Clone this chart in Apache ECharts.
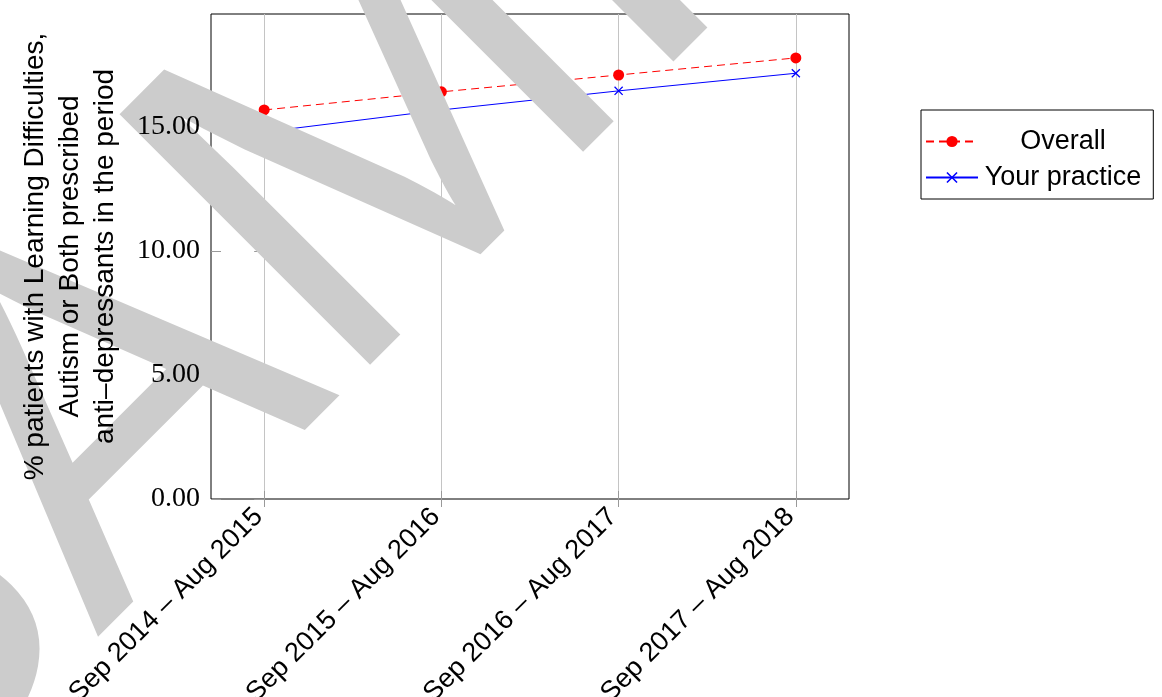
<!DOCTYPE html>
<html><head><meta charset="utf-8">
<script src="https://cdn.jsdelivr.net/npm/echarts@6/dist/echarts.min.js"></script>
<style>html,body{margin:0;padding:0;background:#fff;overflow:hidden}#c{width:1162px;height:697px}</style>
</head><body><div id="c"></div>
<script>
const categories = ['Sep 2014 – Aug 2015', 'Sep 2015 – Aug 2016', 'Sep 2016 – Aug 2017', 'Sep 2017 – Aug 2018'];
const overall = [15.69, 16.42, 17.10, 17.79];
const yourPractice = [14.80, 15.69, 16.46, 17.17];
const yTicks = [0, 5, 10, 15];
const seriesNames = ['Overall', 'Your practice'];
const yTitle = ['% patients with Learning Difficulties,', 'Autism or Both prescribed', 'anti–depressants in the period'];
const watermark = 'SAMPLE';

const chart = echarts.init(document.getElementById('c'), null, {renderer: 'canvas'});
const xIdx = categories.map((_, i) => i);
const SANS = 'Liberation Sans';
const SERIF = 'Liberation Serif';
const xMark = 'path://M0,1L1,0L5,4L9,0L10,1L6,5L10,9L9,10L5,6L1,10L0,9L4,5Z';
const Y_MAX = 19.56;

const option = {
  animation: false,
  backgroundColor: '#fff',
  grid: {left: 211, right: 313, top: 14, bottom: 198, show: true, borderColor: '#000', borderWidth: 1,
         containLabel: false, outerBoundsMode: 'none'},
  legend: {
    left: 921, top: 110, orient: 'vertical',
    data: seriesNames,
    borderColor: '#000', borderWidth: 1, borderRadius: 0,
    padding: [18, 12, 8, 4],
    itemGap: 9, itemWidth: 52, itemHeight: 14,
    formatter: n => '{c|' + n + '}',
    textStyle: {
      color: '#000', fontFamily: SANS, fontSize: 27,
      rich: {c: {width: 160, align: 'center', fontFamily: SANS, fontSize: 27, color: '#000'}}
    }
  },
  xAxis: [
    {type: 'value', position: 'bottom', min: -0.3, max: 3.3, z: 200,
     axisLine: {show: false},
     axisTick: {show: true, inside: true, length: 8, customValues: xIdx, lineStyle: {color: '#999'}},
     axisLabel: {customValues: xIdx, rotate: 45, formatter: v => categories[Math.round(v)],
                 fontFamily: SANS, fontSize: 27, color: '#000', margin: 8, padding: [0, 8, 11, 0]},
     splitLine: {show: false}},
    {type: 'value', position: 'top', min: -0.3, max: 3.3, z: 0,
     axisLine: {show: false},
     axisTick: {show: true, inside: true, length: 8, customValues: xIdx, lineStyle: {color: '#999'}},
     axisLabel: {show: false},
     splitLine: {show: true, lineStyle: {color: '#c4c4c4', width: 1}}}
  ],
  yAxis: [
    {type: 'value', position: 'left', min: 0, max: Y_MAX, z: 200,
     axisLine: {show: false},
     axisTick: {show: false},
     axisLabel: {customValues: yTicks, formatter: v => v.toFixed(2), fontFamily: SERIF, fontSize: 28, color: '#000', margin: 11},
     splitLine: {show: false},
     name: yTitle.join('\n'), nameLocation: 'middle', nameRotate: 90, nameGap: 88,
     nameTextStyle: {fontFamily: SANS, fontSize: 28, lineHeight: 35, color: '#000', align: 'center'}},
    {type: 'value', position: 'right', min: 0, max: Y_MAX, z: 0,
     axisLine: {show: false},
     axisTick: {show: true, inside: true, length: 10, customValues: yTicks, lineStyle: {color: '#999'}},
     axisLabel: {show: false}, splitLine: {show: false}},
    {type: 'value', position: 'left', offset: 0, min: 0, max: Y_MAX, z: 0,
     axisLine: {show: false},
     axisTick: {show: true, inside: true, length: 10, customValues: yTicks, lineStyle: {color: '#999'}},
     axisLabel: {show: false}, splitLine: {show: false}}
  ],
  series: [
    {name: seriesNames[0], type: 'line', xAxisIndex: 0, yAxisIndex: 0,
     data: xIdx.map(i => [i, overall[i]]),
     symbol: 'circle', symbolSize: 11, showAllSymbol: true,
     lineStyle: {color: '#ff0000', width: 1, type: [8, 5]},
     itemStyle: {color: '#ff0000'}},
    {name: seriesNames[1], type: 'line', xAxisIndex: 0, yAxisIndex: 0,
     data: xIdx.map(i => [i, yourPractice[i]]),
     symbol: xMark, symbolSize: 9, showAllSymbol: true,
     lineStyle: {color: '#0000ff', width: 1},
     itemStyle: {color: '#0000ff'}}
  ],
  graphic: [
    {type: 'text', x: -246, y: 780, rotation: Math.PI / 4, z: 100, silent: true,
     style: {text: watermark, fontSize: 515, fontFamily: SANS, fill: '#cccccc', textAlign: 'left', textVerticalAlign: 'middle'}}
  ]
};
chart.setOption(option);
</script></body></html>
